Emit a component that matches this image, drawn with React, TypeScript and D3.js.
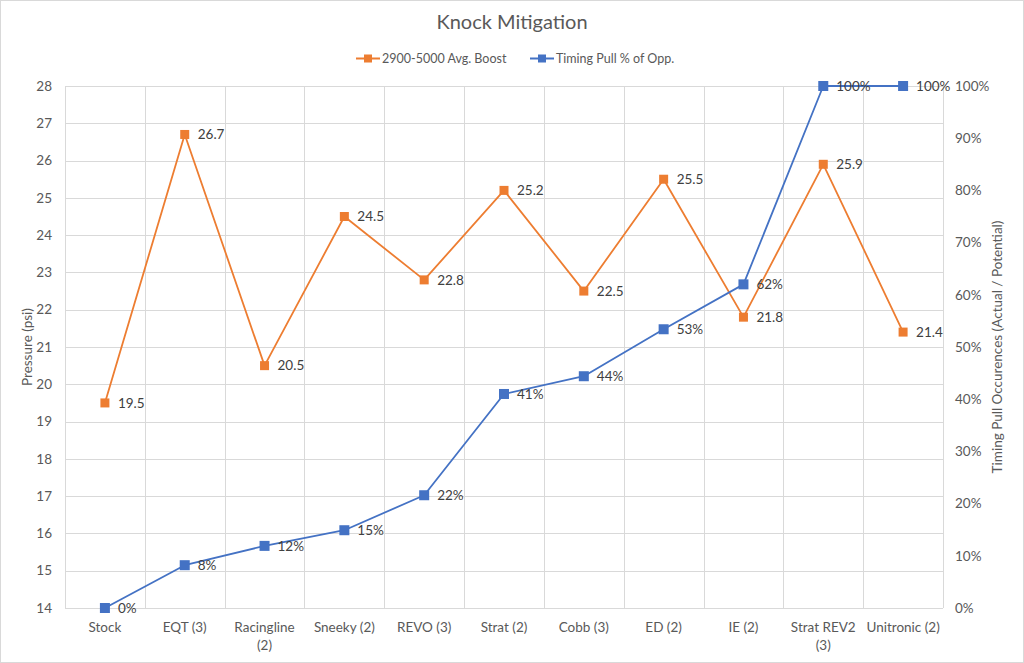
import React, { useEffect, useRef } from "react";
import * as d3 from "d3";

const categories = ["Stock", "EQT (3)", "Racingline (2)", "Sneeky (2)", "REVO (3)", "Strat (2)", "Cobb (3)", "ED (2)", "IE (2)", "Strat REV2 (3)", "Unitronic (2)"];
const boostValues = [19.5, 26.7, 20.5, 24.5, 22.8, 25.2, 22.5, 25.5, 21.8, 25.9, 21.4];
const timingPullValues = [0, 0.082, 0.119, 0.149, 0.216, 0.41, 0.444, 0.534, 0.62, 1.0, 1.0];
const leftTicks = [14, 15, 16, 17, 18, 19, 20, 21, 22, 23, 24, 25, 26, 27, 28];
const rightTicks = [0, 0.1, 0.2, 0.3, 0.4, 0.5, 0.6, 0.7, 0.8, 0.9, 1.0];
const seriesNames = ["2900-5000 Avg. Boost", "Timing Pull % of Opp."];
const title = "Knock Mitigation";
const leftTitle = "Pressure (psi)";
const rightTitle = "Timing Pull Occurences (Actual / Potential)";

const W = 1024, H = 663;
const ORANGE = "#ED7D31", BLUE = "#4472C4";
const FONT = "Lato, 'Open Sans', sans-serif";
const TXT = "#595959";
const GRID = "#d9d9d9";

export default function App() {
  const ref = useRef<SVGSVGElement>(null);
  useEffect(() => {
    const svg = d3.select(ref.current);
    svg.selectAll("*").remove();
    const m = { l: 65, r: 943, t: 86, b: 608 };
    const x = d3.scaleBand().domain(categories).range([m.l, m.r]).padding(0);
    const yL = d3.scaleLinear().domain([14, 28]).range([m.b, m.t]);
    const yR = d3.scaleLinear().domain([0, 1]).range([m.b, m.t]);
    const cx = (c: string) => (x(c) as number) + x.bandwidth() / 2;

    svg.append("rect").attr("x", 0.5).attr("y", 0.5).attr("width", W - 1).attr("height", H - 1)
      .attr("fill", "#fff").attr("stroke", GRID);

    // grid
    const g = svg.append("g");
    g.selectAll("line.h").data(leftTicks).join("line")
      .attr("x1", m.l).attr("x2", m.r)
      .attr("y1", d => Math.round(yL(d)) + 0.5).attr("y2", d => Math.round(yL(d)) + 0.5)
      .attr("stroke", GRID).attr("stroke-width", 1);
    const vx = categories.map(c => x(c) as number).concat([m.r]);
    g.selectAll("line.v").data(vx).join("line")
      .attr("x1", d => Math.round(d) + 0.5).attr("x2", d => Math.round(d) + 0.5)
      .attr("y1", m.t).attr("y2", m.b)
      .attr("stroke", GRID).attr("stroke-width", 1);

    // left ticks
    svg.append("g").selectAll("text").data(leftTicks).join("text")
      .attr("x", 52).attr("y", d => yL(d)).attr("dy", "0.35em")
      .attr("text-anchor", "end").attr("font-family", FONT).attr("font-size", 13.5).attr("fill", TXT)
      .text(d => String(d));
    // right ticks
    svg.append("g").selectAll("text").data(rightTicks).join("text")
      .attr("x", 955).attr("y", d => yR(d)).attr("dy", "0.35em")
      .attr("text-anchor", "start").attr("font-family", FONT).attr("font-size", 13.5).attr("fill", TXT)
      .text(d => d3.format(".0%")(d));

    // x labels with wrap
    const xl = svg.append("g");
    categories.forEach(c => {
      const t = xl.append("text").attr("x", cx(c)).attr("y", 632)
        .attr("text-anchor", "middle").attr("font-family", FONT).attr("font-size", 13.5).attr("fill", TXT);
      const words = c.split(" ");
      let line: string[] = [];
      let tspan = t.append("tspan").attr("x", cx(c)).attr("dy", 0);
      for (const w of words) {
        line.push(w);
        tspan.text(line.join(" "));
        if ((tspan.node() as SVGTSpanElement).getComputedTextLength() > x.bandwidth() - 2 && line.length > 1) {
          line.pop();
          tspan.text(line.join(" "));
          line = [w];
          tspan = t.append("tspan").attr("x", cx(c)).attr("dy", 17.5).text(w);
        }
      }
    });

    // axis titles
    svg.append("text").attr("transform", `translate(32,${(m.t + m.b) / 2}) rotate(-90)`)
      .attr("text-anchor", "middle").attr("font-family", FONT).attr("font-size", 13.5).attr("fill", TXT)
      .text(leftTitle);
    svg.append("text").attr("transform", `translate(1002,${(m.t + m.b) / 2}) rotate(-90)`)
      .attr("text-anchor", "middle").attr("font-family", FONT).attr("font-size", 13.5).attr("fill", TXT)
      .text(rightTitle);

    // title
    svg.append("text").attr("x", 512).attr("y", 29).attr("text-anchor", "middle")
      .attr("font-family", FONT).attr("font-size", 20).attr("fill", TXT).text(title);

    // legend
    const lg = svg.append("g").attr("font-family", FONT).attr("font-size", 12.5).attr("fill", TXT);
    const legendItems = [
      { name: seriesNames[0], color: ORANGE, x: 356, size: 8 },
      { name: seriesNames[1], color: BLUE, x: 530, size: 8 },
    ];
    legendItems.forEach(it => {
      lg.append("line").attr("x1", it.x).attr("x2", it.x + 24).attr("y1", 58.5).attr("y2", 58.5)
        .attr("stroke", it.color).attr("stroke-width", 2);
      lg.append("rect").attr("x", it.x + 12 - it.size / 2).attr("y", 58.5 - it.size / 2)
        .attr("width", it.size).attr("height", it.size).attr("fill", it.color);
      lg.append("text").attr("x", it.x + 26).attr("y", 58.5).attr("dy", "0.35em").text(it.name);
    });

    // orange line
    const lineL = d3.line<number>().x((_, i) => cx(categories[i])).y(d => yL(d));
    svg.append("path").attr("d", lineL(boostValues)).attr("fill", "none")
      .attr("stroke", ORANGE).attr("stroke-width", 1.8).attr("stroke-linejoin", "round");
    // blue line
    const lineR = d3.line<number>().x((_, i) => cx(categories[i])).y(d => yR(d));
    svg.append("path").attr("d", lineR(timingPullValues)).attr("fill", "none")
      .attr("stroke", BLUE).attr("stroke-width", 1.8).attr("stroke-linejoin", "round");

    // markers
    svg.append("g").selectAll("rect").data(boostValues).join("rect")
      .attr("x", (_, i) => cx(categories[i]) - 4.5).attr("y", d => yL(d) - 4.5)
      .attr("width", 9).attr("height", 9).attr("fill", ORANGE);
    svg.append("g").selectAll("rect").data(timingPullValues).join("rect")
      .attr("x", (_, i) => cx(categories[i]) - 5).attr("y", d => yR(d) - 5)
      .attr("width", 10).attr("height", 10).attr("fill", BLUE);

    // labels
    svg.append("g").selectAll("text").data(boostValues).join("text")
      .attr("x", (_, i) => cx(categories[i]) + 13).attr("y", d => yL(d)).attr("dy", "0.35em")
      .attr("font-family", FONT).attr("font-size", 13.5).attr("fill", "#404040")
      .text(d => d3.format(".1f")(d));
    svg.append("g").selectAll("text").data(timingPullValues).join("text")
      .attr("x", (_, i) => cx(categories[i]) + 13).attr("y", d => yR(d)).attr("dy", "0.35em")
      .attr("font-family", FONT).attr("font-size", 13.5).attr("fill", "#404040")
      .text(d => d3.format(".0%")(d));
  }, []);
  return (
    <svg ref={ref} width={W} height={H} style={{ position: "absolute", left: 0, top: 0, display: "block" }} />
  );
}
